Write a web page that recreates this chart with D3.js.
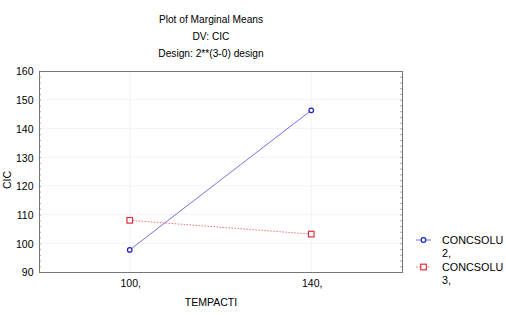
<!DOCTYPE html>
<html><head><meta charset="utf-8">
<script src="https://cdn.jsdelivr.net/npm/d3@7"></script>
<style>body{margin:0;background:#fff}svg{display:block;font-family:"Liberation Sans",Arial,sans-serif}</style>
</head><body><svg id="c" width="506" height="315"></svg>
<script>
const categories = ["100,", "140,"];
const seriesNames = ["CONCSOLU\n2,", "CONCSOLU\n3,"];
const series2 = [97.7, 146.3];
const series3 = [108.0, 103.2];
const yTicks = [90, 100, 110, 120, 130, 140, 150, 160];
const titleLines = ["Plot of Marginal Means", "DV: CIC", "Design: 2**(3-0) design"];

const svg = d3.select("#c");
const L = 39, R = 402, T = 71, B = 272;
const x = d3.scalePoint().domain(categories).range([L, R]).padding(0.5);
const y = d3.scaleLinear().domain([90, 160]).range([B, T]);

// gridlines
svg.append("g").selectAll("line").data(yTicks.slice(1, -1)).join("line")
  .attr("x1", L).attr("x2", R).attr("y1", d => y(d)).attr("y2", d => y(d))
  .attr("stroke", "#f1f4f9").attr("stroke-width", 1);
svg.append("g").selectAll("line").data(categories).join("line")
  .attr("x1", d => x(d)).attr("x2", d => x(d)).attr("y1", T).attr("y2", B)
  .attr("stroke", "#f1f4f9").attr("stroke-width", 1);

// minor ticks
const minor = d3.range(90, 160.01, 2);
svg.append("g").selectAll("line").data(minor).join("line")
  .attr("x1", L).attr("x2", L + 2).attr("y1", d => y(d) + 0.5).attr("y2", d => y(d) + 0.5)
  .attr("stroke", "#aaa");
svg.append("g").selectAll("line").data(minor).join("line")
  .attr("x1", R - 2).attr("x2", R).attr("y1", d => y(d) + 0.5).attr("y2", d => y(d) + 0.5)
  .attr("stroke", "#aaa");

// frame
svg.append("rect").attr("x", L + 0.5).attr("y", T + 0.5).attr("width", R - L).attr("height", B - T)
  .attr("fill", "none").attr("stroke", "#777");

// y axis
const ya = svg.append("g").attr("transform", `translate(${L + 0.5},0.5)`)
  .call(d3.axisLeft(y).tickValues(yTicks).tickSize(0).tickPadding(6));
ya.select(".domain").remove();
ya.selectAll("text").attr("font-size", 10.5).attr("fill", "#000").attr("font-family", "Liberation Sans, Arial, sans-serif");

// x axis
const xa = svg.append("g").attr("transform", `translate(0.5,${B + 0.5})`)
  .call(d3.axisBottom(x).tickSize(0).tickPadding(7));
xa.select(".domain").remove();
xa.selectAll("text").attr("font-size", 10.5).attr("fill", "#000").attr("font-family", "Liberation Sans, Arial, sans-serif");

// titles
svg.append("g").selectAll("text").data(titleLines).join("text")
  .attr("x", 211).attr("y", (d, i) => 23 + i * 17).attr("text-anchor", "middle")
  .attr("font-size", 10.2).text(d => d);
svg.append("text").attr("x", 211).attr("y", 306).attr("text-anchor", "middle").attr("font-size", 10.5).text("TEMPACTI");
svg.append("text").attr("transform", "translate(11,180) rotate(-90)").attr("text-anchor", "middle").attr("font-size", 10.5).text("CIC");

const line = d3.line().x((d, i) => x(categories[i])).y(d => y(d));
const defs = [
  {vals: series2, color: "#5050d8", dash: null, mark: "circle", mcolor: "#2020c0"},
  {vals: series3, color: "#e05060", dash: "1.5,1.5", mark: "square", mcolor: "#e03040"}
];
defs.forEach(s => {
  svg.append("path").attr("d", line(s.vals)).attr("fill", "none").attr("stroke", s.color)
    .attr("stroke-width", 0.8).attr("stroke-dasharray", s.dash);
  const g = svg.append("g");
  s.vals.forEach((v, i) => {
    if (s.mark === "circle") g.append("circle").attr("cx", x(categories[i])).attr("cy", y(v)).attr("r", 2.3)
      .attr("fill", "#fff").attr("stroke", s.mcolor).attr("stroke-width", 1.2);
    else g.append("rect").attr("x", x(categories[i]) - 2.8).attr("y", y(v) - 2.8).attr("width", 5.6).attr("height", 5.6)
      .attr("fill", "#fff").attr("stroke", s.mcolor).attr("stroke-width", 1.2);
  });
});

// legend
const lg = svg.append("g");
seriesNames.forEach((name, i) => {
  const s = defs[i];
  const yy = 240 + i * 27;
  lg.append("line").attr("x1", 416).attr("x2", 431).attr("y1", yy).attr("y2", yy)
    .attr("stroke", s.color).attr("stroke-width", 0.8).attr("stroke-dasharray", s.dash);
  if (s.mark === "circle") lg.append("circle").attr("cx", 423.5).attr("cy", yy).attr("r", 2.3)
    .attr("fill", "#fff").attr("stroke", s.mcolor).attr("stroke-width", 1.2);
  else lg.append("rect").attr("x", 420.7).attr("y", yy - 2.8).attr("width", 5.6).attr("height", 5.6)
    .attr("fill", "#fff").attr("stroke", s.mcolor).attr("stroke-width", 1.2);
  const parts = name.split("\n");
  parts.forEach((p, j) => lg.append("text").attr("x", 442).attr("y", yy + 4 + j * 13).attr("font-size", 10.8).text(p));
});
</script></body></html>
